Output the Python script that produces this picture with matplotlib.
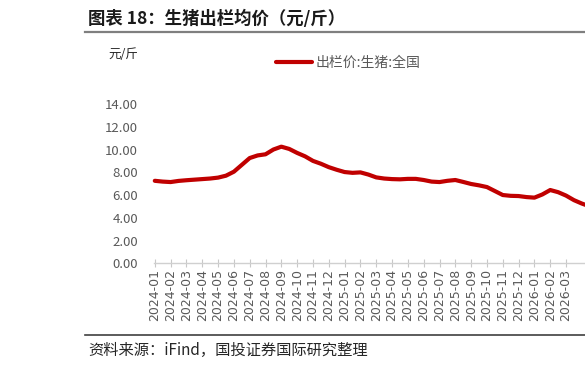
import matplotlib.pyplot as plt
from matplotlib.lines import Line2D
import numpy as np

plt.rcParams['font.family'] = ['Noto Sans CJK SC', 'DejaVu Sans']

# monthly tick labels
months = ['2024-01', '2024-02', '2024-03', '2024-04', '2024-05', '2024-06',
          '2024-07', '2024-08', '2024-09', '2024-10', '2024-11', '2024-12',
          '2025-01', '2025-02', '2025-03', '2025-04', '2025-05', '2025-06',
          '2025-07', '2025-08', '2025-09', '2025-10', '2025-11', '2025-12',
          '2026-01', '2026-02', '2026-03']

# semi-monthly observations (month index from 2024-01)
period = [0, 0.5, 1, 1.5, 2, 2.5, 3, 3.5, 4, 4.5, 5, 5.5, 6, 6.5, 7, 7.5,
          8, 8.5, 9, 9.5, 10, 10.5, 11, 11.5, 12, 12.5, 13, 13.5, 14, 14.5,
          15, 15.5, 16, 16.5, 17, 17.5, 18, 18.5, 19, 19.5, 20, 20.5, 21,
          21.5, 22, 22.5, 23, 23.5, 24, 24.5, 25, 25.5, 26, 26.5, 27, 27.5]
price = [7.25, 7.18, 7.14, 7.24, 7.30, 7.35, 7.40, 7.45, 7.53, 7.70, 8.05,
         8.65, 9.25, 9.48, 9.58, 10.00, 10.25, 10.05, 9.70, 9.40, 9.00, 8.75,
         8.45, 8.22, 8.02, 7.95, 7.99, 7.80, 7.55, 7.45, 7.40, 7.38, 7.42,
         7.42, 7.32, 7.18, 7.14, 7.25, 7.32, 7.15, 6.97, 6.85, 6.70, 6.35,
         6.00, 5.93, 5.91, 5.82, 5.77, 6.05, 6.44, 6.25, 5.95, 5.55, 5.25,
         5.00]

W, H = 585, 368
fig = plt.figure(figsize=(W / 100, H / 100), dpi=100)

# axes placed in pixel coordinates
left, right, top, bottom = 154, 585, 104, 263.3
ax = fig.add_axes([left / W, 1 - bottom / H, (right - left) / W, (bottom - top) / H])

ax.plot(period, price, color='#C00000', lw=3, solid_capstyle='round',
        label='出栏价:生猪:全国', clip_on=False)

ax.set_ylim(0, 14)
ax.set_yticks(np.arange(0, 15, 2))
ax.set_yticklabels(['%.2f' % v for v in np.arange(0, 15, 2)])
ax.set_xlim(-0.05, (right - 155) / 15.81)
ax.set_xticks(range(len(months)))
ax.set_xticklabels(months, rotation=90, family='DejaVu Sans')

for s in ['left', 'right', 'top']:
    ax.spines[s].set_visible(False)
ax.spines['bottom'].set_color('#d0d0d0')
ax.spines['bottom'].set_linewidth(1)
ax.tick_params(axis='x', direction='inout', length=6, color='#c8c8c8',
               labelsize=9, labelcolor='#595959', pad=1)
ax.tick_params(axis='y', length=0, labelsize=9.5, labelcolor='#595959', pad=11.5)

# legend
leg = ax.legend(loc='upper left', bbox_to_anchor=((270 - left) / (right - left), 1 + (104 - 50) / (bottom - top)),
                frameon=False, fontsize=10, handlelength=2.6, handletextpad=0.3,
                borderaxespad=0)
for t in leg.get_texts():
    t.set_color('#595959')

fig.text(108 / W, 1 - 55 / H, '元/斤', fontsize=9, color='#262626', va='center')

# title and frame lines
fig.text(88 / W, 1 - 19 / H, '图表 18：生猪出栏均价（元/斤）', fontsize=12.5,
         fontweight='bold', color='#1a1a1a', va='center')
fig.add_artist(Line2D([85 / W, 1], [1 - 32 / H, 1 - 32 / H], color='#7f7f7f', lw=1.6))
fig.add_artist(Line2D([85 / W, 1], [1 - 335 / H, 1 - 335 / H], color='#404040', lw=1.2))
fig.text(88 / W, 1 - 350 / H, '资料来源：iFind，国投证券国际研究整理', fontsize=11,
         style='italic', color='#262626', va='center')

fig.savefig('out.png', dpi=100)
